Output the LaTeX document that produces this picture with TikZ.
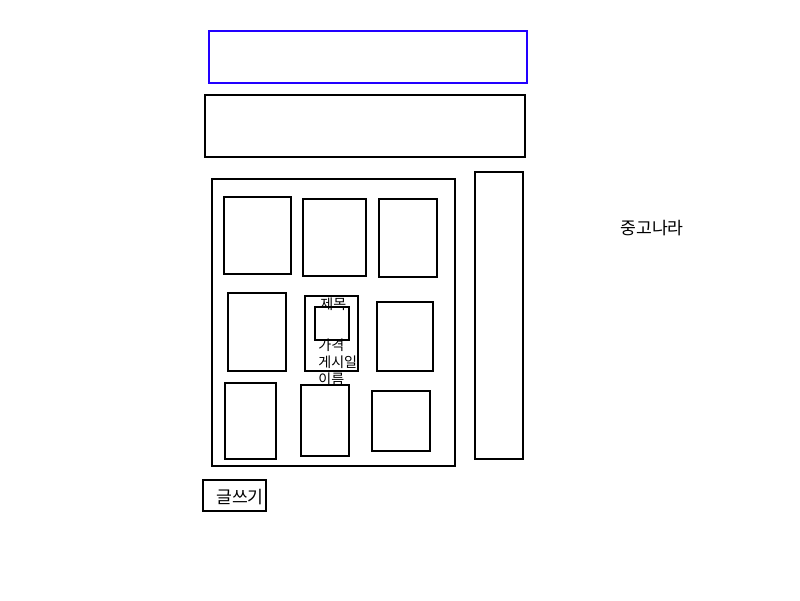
\documentclass[tikz,border=0pt]{standalone}
\usepackage{fontspec}
\setmainfont{Noto Sans CJK KR}
\usepackage{xcolor}
\usetikzlibrary{fit, positioning}
\definecolor{navblue}{HTML}{2200FF}

\begin{document}
\begin{tikzpicture}[
    x=0.02cm, y=-0.02cm,
    box/.style={draw, rectangle, line width=1.1pt, inner sep=0pt},
    label/.style={inner sep=0pt, font=\fontsize{8}{9}\selectfont},
    biglabel/.style={inner sep=0pt, font=\fontsize{9.8}{11}\selectfont},
]
\useasboundingbox (0,0) rectangle (800,600);

% top bars
\node[box, draw=navblue, fit={(209,31) (527,83)}] (nav) {};
\node[box, fit={(205,95) (525,157)}] (header) {};

% list area and side bar
\node[box, fit={(212,179) (455,466)}] (list) {};
\node[box, fit={(475,172) (523,459)}] (side) {};

% cards
\node[box, fit={(224,197) (291,274)}] (card1) {};
\node[box, fit={(303,199) (366,276)}] (card2) {};
\node[box, fit={(379,199) (437,277)}] (card3) {};
\node[box, fit={(228,293) (286,371)}] (card4) {};
\node[box, fit={(305,296) (358,371)}] (card5) {};
\node[box, fit={(377,302) (433,371)}] (card6) {};
\node[box, fit={(225,383) (276,459)}] (card7) {};
\node[box, fit={(301,385) (349,456)}] (card8) {};
\node[box, fit={(372,391) (430,451)}] (card9) {};

% detail of one card
\node[label, anchor=west] (title) at (320,304) {제목};
\node[box, fit={(315,307) (349,340)}] (photo) {};
\node[label, anchor=west] (price) at (318,345) {가격};
\node[label, anchor=west] (date) at (318,362) {게시일};
\node[label, anchor=west] (name) at (318,379) {이름};

% write button and site name
\node[box, fit={(203,480) (266,511)}] (write) {};
\node[biglabel] (writetxt) at (240,497) {글쓰기};
\node[biglabel] (site) at (652,228) {중고나라};
\end{tikzpicture}
\end{document}
